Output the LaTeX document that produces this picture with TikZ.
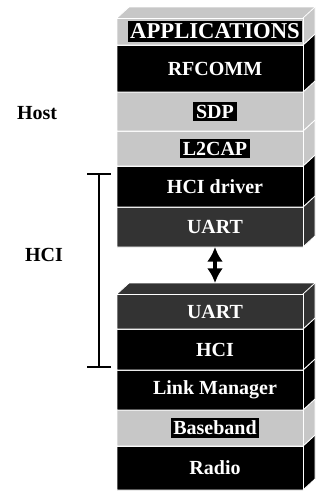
\documentclass[tikz,border=0pt]{standalone}
\usepackage{fontspec}
\setmainfont{Liberation Serif}
\usetikzlibrary{arrows.meta}

\begin{document}
\begin{tikzpicture}[x=0.75pt, y=-0.75pt, line width=1pt,
    darkslab/.style={fill=black, draw=white, line width=0.6pt},
    greyslab/.style={fill=black!80, draw=white, line width=0.6pt},
    lightslab/.style={fill=black!22, draw=white, line width=0.6pt},
    layername/.style={text=white, inner sep=2pt, font=\fontsize{15}{17}\selectfont\bfseries},
    boxedname/.style={layername, fill=black},
    sidename/.style={font=\fontsize{15}{17}\selectfont\bfseries}]
    \useasboundingbox (0,0) rectangle (320,493);

    % Host stack, then controller stack, each from the bottom up
    \foreach \name/\top/\bot/\look/\sty/\txt in {
        uarth/207/247/greyslab/layername/UART,
        hcidrv/166/207/darkslab/layername/HCI driver,
        l2cap/131/166/lightslab/boxedname/L2CAP,
        sdp/92/131/lightslab/boxedname/SDP,
        rfcomm/45/92/darkslab/layername/RFCOMM,
        appl/18/45/lightslab/boxedname/{\fontsize{17}{19}\selectfont APPLICATIONS},
        radio/446/490/darkslab/layername/Radio,
        baseband/410/446/lightslab/boxedname/Baseband,
        lmp/370/410/darkslab/layername/Link Manager,
        hci/329/370/darkslab/layername/HCI,
        uartd/294/329/greyslab/layername/UART}
    {
        \draw[\look] (117,\top) -- (129,\top-11) -- (315,\top-11) -- (315,\bot-11)
            -- (303,\bot) -- (117,\bot) -- cycle;
        \draw[white, line width=0.6pt] (117,\top) -- (303,\top) -- (303,\bot);
        \draw[white, line width=0.6pt] (303,\top) -- (315,\top-11);
        \coordinate (\name-t) at (215,\top-11);
        \coordinate (\name-b) at (215,\bot);
        \node[\sty] (\name) at (215,{(\top+\bot)/2}) {\txt};
    }

    % UART link
    \draw[line width=2.4pt, {Latex[length=11pt,width=12pt]}-{Latex[length=11pt,width=12pt]}]
        (uarth-b) -- (uartd-t);

    % HCI bracket
    \coordinate (hcitop) at (99,173);
    \coordinate (hcibot) at (99,368);
    \draw[line width=1.8pt, {Bar[width=18pt]}-{Bar[width=18pt]}] (hcitop) -- (hcibot);

    % Side labels
    \node[sidename] (host) at (37,113) {Host};
    \node[sidename] (hcilbl) at (44,255) {HCI};
\end{tikzpicture}
\end{document}
